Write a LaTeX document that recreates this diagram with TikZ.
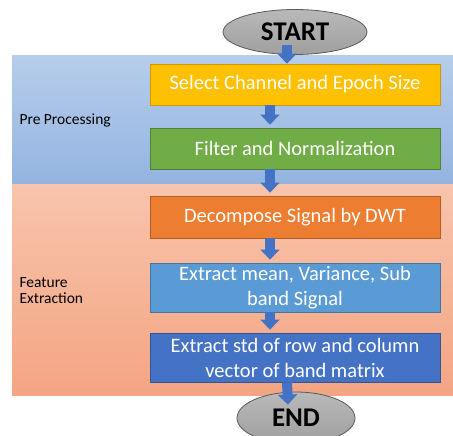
\documentclass[tikz,border=0pt]{standalone}
\usepackage{fontspec}
\setmainfont{Carlito}
\usetikzlibrary{shapes.geometric,arrows.meta}
\definecolor{pretop}{HTML}{B7CDEB}
\definecolor{prebot}{HTML}{93B4E0}
\definecolor{feattop}{HTML}{F8C4AC}
\definecolor{featbot}{HTML}{F4A583}
\definecolor{selcol}{HTML}{FFC000}
\definecolor{filtcol}{HTML}{70AD47}
\definecolor{deccol}{HTML}{ED7D31}
\definecolor{meancol}{HTML}{5B9BD5}
\definecolor{stdcol}{HTML}{4472C4}
\definecolor{arrowcol}{HTML}{4472C4}
\begin{document}
\begin{tikzpicture}[x=1pt,y=-1pt,
    stepbox/.style={draw, line width=0.8pt, minimum width=290pt, text=white,
      align=center, font=\fontsize{20.5}{25}\selectfont, inner sep=0pt},
    term/.style={ellipse, draw=black!65, line width=0.8pt, top color=gray!55,
      bottom color=gray!75, font=\fontsize{27}{28}\selectfont\bfseries, inner sep=0pt},
    flow/.style={draw=arrowcol, line width=10pt,
      -{Triangle[length=10pt,width=19pt]}},
    phase/.style={anchor=west, align=left, font=\fontsize{15.5}{16}\selectfont}]
  \useasboundingbox (0,0) rectangle (453,436);
  % phases
  \shade[top color=pretop, bottom color=prebot] (12,56) rectangle (453,184);
  \shade[top color=feattop, bottom color=featbot] (12,184) rectangle (453,395);
  \node[phase] (pre) at (16,121) {Pre Processing};
  \node[phase] (fext) at (16,291) {Feature\\Extraction};
  % terminals
  \node[term, minimum width=144pt, minimum height=45pt] (start) at (295,32) {START};
  \node[term, minimum width=118pt, minimum height=52pt] (fin) at (296,418) {END};
  % steps
  \node[stepbox, fill=selcol, draw=selcol!80!black, minimum height=41pt] (sel) at (295,84.5)
    {Select Channel and Epoch Size};
  \node[stepbox, fill=filtcol, draw=filtcol!75!black, minimum height=41pt] (filt) at (295,148.5)
    {Filter and Normalization};
  \node[stepbox, fill=deccol, draw=deccol!75!black, minimum height=42pt] (dec) at (295,217)
    {Decompose Signal by DWT};
  \node[stepbox, fill=meancol, draw=meancol!75!black, minimum height=49pt] (mean) at (295,287.5)
    {Extract mean, Variance, Sub\\band Signal};
  \node[stepbox, fill=stdcol, draw=stdcol!75!black, minimum height=49pt] (std) at (295,357.5)
    {Extract std of row and column\\vector of band matrix};
  % arrows
  \draw[flow] ([xshift=-8pt,yshift=10pt]start.south) -- ([xshift=-8pt]sel.north);
  \foreach \a/\b in {sel/filt, filt/dec, dec/mean, mean/std}
    \draw[flow] ([xshift=-25pt]\a.south) -- ([xshift=-25pt,yshift=3pt]\b.north);
  \draw[flow] ([xshift=-8pt]std.south) -- ([xshift=-8pt,yshift=-13pt]fin.north);
\end{tikzpicture}
\end{document}
